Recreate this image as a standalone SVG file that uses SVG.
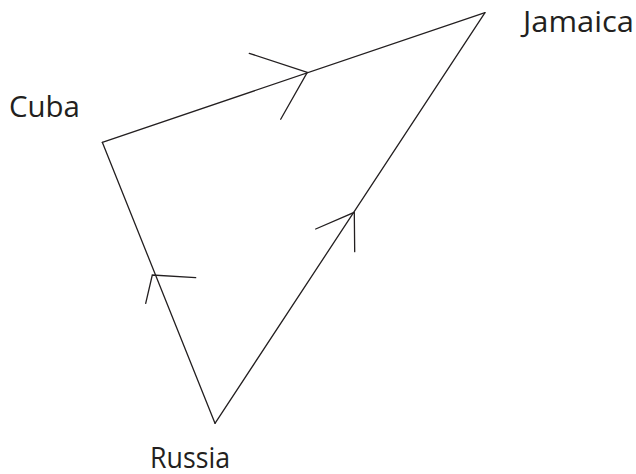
<svg xmlns="http://www.w3.org/2000/svg" width="636" height="474" viewBox="0 0 636 474">
<style>
.edge{fill:none;stroke:#231f20;stroke-width:1.3;stroke-linecap:round;stroke-linejoin:miter}
.lbl{font-family:"Open Sans","Liberation Sans",sans-serif;font-size:28.5px;fill:#231f20}
</style>
<rect width="636" height="474" fill="#fff"/>
<g id="connectors">
<path class="edge" d="M102.3,142.3 L485,12.7"/>
<path class="edge" d="M215,423.3 L485,12.7"/>
<path class="edge" d="M215,423.3 L102.3,142.3"/>
<path class="edge" d="M249.3,53.3 L307.3,72.3 L280.7,119.3"/>
<path class="edge" d="M315.7,229 L354.3,212.3 L354.7,251.7"/>
<path class="edge" d="M195.7,277.7 L152.3,275 L145.7,303.3"/>
</g>
<g id="cuba"><text class="lbl" x="9" y="116.5" textLength="71" lengthAdjust="spacingAndGlyphs">Cuba</text></g>
<g id="jamaica"><text class="lbl" x="523" y="31.7" textLength="111" lengthAdjust="spacingAndGlyphs">Jamaica</text></g>
<g id="russia"><text class="lbl" x="150" y="467.5" textLength="80" lengthAdjust="spacingAndGlyphs">Russia</text></g>
</svg>
